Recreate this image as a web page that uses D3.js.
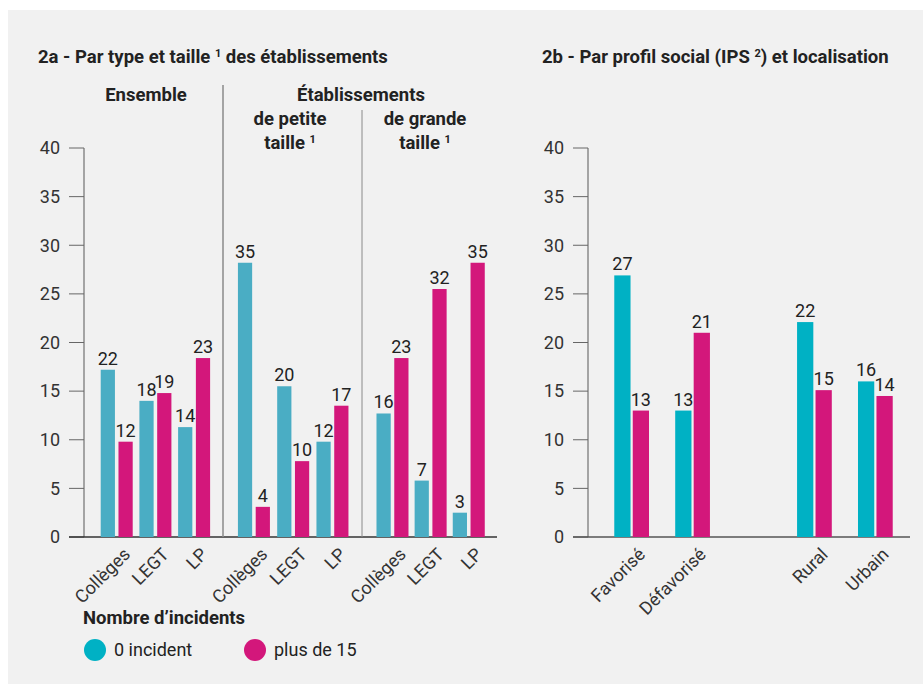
<!DOCTYPE html>
<html>
<head>
<meta charset="utf-8">
<script src="https://cdn.jsdelivr.net/npm/d3@7"></script>
<style>
  body { margin: 0; background: #fff; font-family: Roboto, "Noto Sans", sans-serif; }
  text { font-family: Roboto, "Noto Sans", sans-serif; }
</style>
</head>
<body>
<div id="chart"></div>
<script>
// data
// 2a: bar heights as drawn, and the labels printed above them
var sections2a = ["Ensemble", "petite", "grande"];
var types2a = ["Collèges", "LEGT", "LP"];
var zeroBars2a = [17.2, 14.0, 11.3, 28.2, 15.5, 9.8, 12.7, 5.8, 2.5];
var overBars2a = [9.8, 14.8, 18.4, 3.1, 7.8, 13.5, 18.4, 25.5, 28.2];
var zeroLabels2a = [22, 18, 14, 35, 20, 12, 16, 7, 3];
var overLabels2a = [12, 19, 23, 4, 10, 17, 23, 32, 35];
// 2b
var cats2b = ["Favorisé", "Défavorisé", "", "Rural", "Urbain"];
var zeroBars2b = [26.9, 13.0, null, 22.1, 16.0];
var overBars2b = [13.0, 21.0, null, 15.1, 14.5];
var zeroLabels2b = [27, 13, null, 22, 16];
var overLabels2b = [13, 21, null, 15, 14];
var yTicks = [0, 5, 10, 15, 20, 25, 30, 35, 40];
var seriesNames = ["0 incident", "plus de 15"];

var W = 923, H = 684;
var teal2a = "#4aadc4", teal2b = "#00b1c4", pink = "#d3177b";
var axisGrey = "#8a8a8a", textCol = "#222";
var fs = "18px";

var svg = d3.select("#chart").append("svg")
    .attr("width", W).attr("height", H);

svg.append("rect")
    .attr("x", 8).attr("y", 10)
    .attr("width", W - 8).attr("height", H - 10)
    .attr("fill", "#f1f1f1");

var y = d3.scaleLinear().domain([0, 40]).range([537, 148]);

//draws the y axis with its ticks, labels on the left
function drawYAxis(axisX, tickStart) {
    var g = svg.append("g");
    g.append("line")
        .attr("x1", axisX).attr("x2", axisX)
        .attr("y1", y(40)).attr("y2", y(0))
        .attr("stroke", axisGrey).attr("stroke-width", 1.5);
    g.selectAll(".tick")
        .data(yTicks)
        .enter().append("line")
        .attr("x1", tickStart).attr("x2", axisX)
        .attr("y1", d => y(d)).attr("y2", d => y(d))
        .attr("stroke", "#666").attr("stroke-width", 1);
    g.selectAll(".tlab")
        .data(yTicks)
        .enter().append("text")
        .attr("x", tickStart - 9)
        .attr("y", d => y(d))
        .attr("dy", "0.35em")
        .attr("text-anchor", "end")
        .attr("font-size", fs)
        .attr("fill", "#333")
        .text(d => d);
}

function drawBars(items, xBand, inner, teal) {
    var g = svg.append("g");
    items.forEach(function(it) {
        if (it.zero == null) return;
        var x0 = xBand(it);
        [[it.zero, it.zeroLab, teal, 0], [it.over, it.overLab, pink, 1]].forEach(function(s) {
            var bx = x0 + inner(s[3]);
            g.append("rect")
                .attr("x", bx).attr("y", y(s[0]))
                .attr("width", inner.bandwidth())
                .attr("height", y(0) - y(s[0]))
                .attr("fill", s[2]);
            g.append("text")
                .attr("x", bx + inner.bandwidth() / 2)
                .attr("y", y(s[0]) - 5)
                .attr("text-anchor", "middle")
                .attr("font-size", fs)
                .attr("fill", textCol)
                .text(s[1]);
        });
    });
}

function drawXLabel(cx, label) {
    svg.append("text")
        .attr("transform", "translate(" + (cx + 5) + ",546) rotate(-45)")
        .attr("text-anchor", "end")
        .attr("dy", "0.75em")
        .attr("font-size", fs)
        .attr("fill", "#333")
        .text(label);
}

// ---------- 2a ----------
var sepX = [84, 223, 362, 497];
var items2a = [];
sections2a.forEach(function(sec, si) {
    types2a.forEach(function(t, ti) {
        var k = si * 3 + ti;
        items2a.push({ sec: sec, type: t, zero: zeroBars2a[k], over: overBars2a[k],
            zeroLab: zeroLabels2a[k], overLab: overLabels2a[k] });
    });
});
var secScales = sections2a.map(function(sec, si) {
    return d3.scaleBand().domain(types2a)
        .range([sepX[si], sepX[si + 1]])
        .paddingInner(0.22).paddingOuter(0.38);
});
secScales[0].range([86, 223]);
var inner2a = d3.scaleBand().domain([0, 1]).range([0, 32]).paddingInner(0.2);
var x2a = it => secScales[sections2a.indexOf(it.sec)](it.type);

drawYAxis(84, 69);
// baseline
svg.append("line")
    .attr("x1", 69).attr("x2", 497)
    .attr("y1", y(0)).attr("y2", y(0))
    .attr("stroke", "#333").attr("stroke-width", 1.5);
// separators
svg.append("line").attr("x1", 223).attr("x2", 223).attr("y1", 85).attr("y2", y(0))
    .attr("stroke", axisGrey).attr("stroke-width", 1.5);
svg.append("line").attr("x1", 362).attr("x2", 362).attr("y1", 110).attr("y2", y(0))
    .attr("stroke", axisGrey).attr("stroke-width", 1);

drawBars(items2a, x2a, inner2a, teal2a);
items2a.forEach(function(it) {
    drawXLabel(x2a(it) + 16, it.type);
});

// ---------- 2b ----------
var x2b = d3.scaleBand().domain(cats2b.map((c, i) => i))
    .range([596, 911]).paddingInner(0.43).paddingOuter(0.3);
var inner2b = d3.scaleBand().domain([0, 1]).range([0, x2b.bandwidth()]).paddingInner(0.12);
var items2b = cats2b.map(function(c, i) {
    return { idx: i, cat: c, zero: zeroBars2b[i], over: overBars2b[i],
        zeroLab: zeroLabels2b[i], overLab: overLabels2b[i] };
});
drawYAxis(588, 573);
svg.append("line")
    .attr("x1", 573).attr("x2", 910)
    .attr("y1", y(0)).attr("y2", y(0))
    .attr("stroke", "#555").attr("stroke-width", 1.5);
drawBars(items2b, it => x2b(it.idx), inner2b, teal2b);
items2b.forEach(function(it) {
    if (it.cat) drawXLabel(x2b(it.idx) + x2b.bandwidth() / 2, it.cat);
});

// ---------- titles ----------
function boldText(x, yy, anchor, parts) {
    var t = svg.append("text")
        .attr("x", x).attr("y", yy)
        .attr("text-anchor", anchor)
        .attr("font-size", "18.5px")
        .attr("font-weight", "bold")
        .attr("fill", textCol);
    parts.forEach(function(p) {
        var s = t.append("tspan").text(p[0]);
        if (p[1]) s.attr("font-size", "11px").attr("baseline-shift", "6px");
    });
}
boldText(38, 63, "start", [["2a - Par type et taille "], ["1", true], [" des établissements"]]);
boldText(542, 63, "start", [["2b - Par profil social (IPS "], ["2", true], [") et localisation"]]);
boldText(146, 101, "middle", [["Ensemble"]]);
boldText(361, 101, "middle", [["Établissements"]]);
boldText(290, 125, "middle", [["de petite"]]);
boldText(290, 149, "middle", [["taille "], ["1", true]]);
boldText(425, 125, "middle", [["de grande"]]);
boldText(425, 149, "middle", [["taille "], ["1", true]]);

// ---------- legend ----------
boldText(83, 624, "start", [["Nombre d’incidents"]]);
var legend = svg.append("g").attr("transform", "translate(95,650)");
seriesNames.forEach(function(name, i) {
    var item = legend.append("g").attr("transform", "translate(" + (i * 160) + ",0)");
    item.append("circle").attr("r", 11).attr("fill", i === 0 ? teal2b : pink);
    item.append("text")
        .attr("x", 19).attr("y", 0).attr("dy", "0.35em")
        .attr("font-size", fs).attr("fill", textCol)
        .text(name);
});
</script>
</body>
</html>
